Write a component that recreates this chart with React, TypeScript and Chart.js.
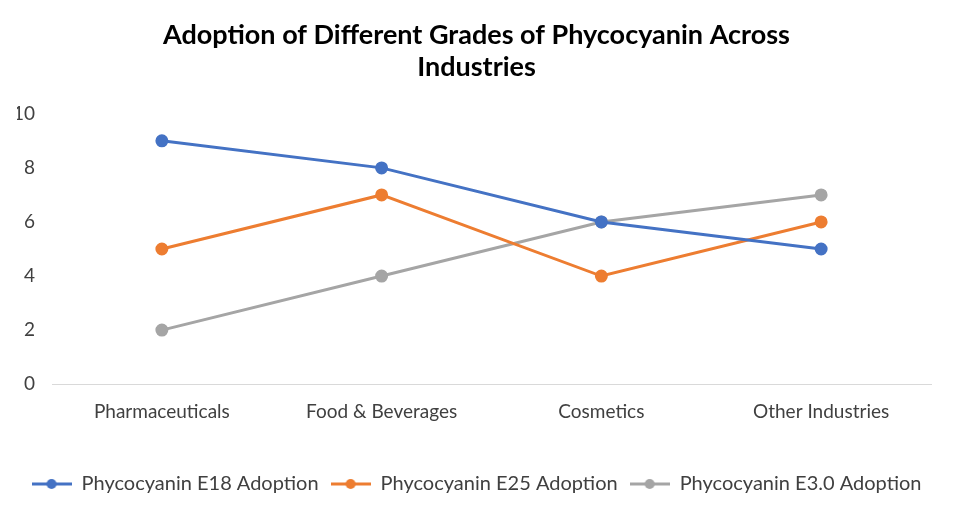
import React, { useEffect, useRef } from "react";
import { Chart, registerables } from "chart.js";
Chart.register(...registerables);

const categories = ["Pharmaceuticals", "Food & Beverages", "Cosmetics", "Other Industries"];
const e18 = [9, 8, 6, 5];
const e25 = [5, 7, 4, 6];
const e30 = [2, 4, 6, 7];
const seriesNames = ["Phycocyanin E18 Adoption", "Phycocyanin E25 Adoption", "Phycocyanin E3.0 Adoption"];
const colors = ["#4472C4", "#ED7D31", "#A5A5A5"];
const FONT = "Lato, 'Open Sans', sans-serif";

function legendIcon(color: string): HTMLCanvasElement {
  const c = document.createElement("canvas");
  c.width = 40;
  c.height = 12;
  const ctx = c.getContext("2d")!;
  ctx.strokeStyle = color;
  ctx.lineWidth = 3;
  ctx.beginPath();
  ctx.moveTo(0, 6);
  ctx.lineTo(40, 6);
  ctx.stroke();
  ctx.fillStyle = color;
  ctx.beginPath();
  ctx.arc(20, 6, 5, 0, Math.PI * 2);
  ctx.fill();
  return c;
}

export default function App() {
  const ref = useRef<HTMLCanvasElement>(null);
  useEffect(() => {
    document.body.style.margin = "0";
    const data = [e18, e25, e30];
    const chart = new Chart(ref.current!, {
      type: "line",
      data: {
        labels: categories,
        datasets: data.map((d, i) => ({
          label: seriesNames[i],
          data: d,
          borderColor: colors[i],
          backgroundColor: colors[i],
          borderWidth: 3,
          pointRadius: 5,
          pointHoverRadius: 5,
          pointBackgroundColor: colors[i],
          pointBorderColor: colors[i],
          tension: 0,
        })),
      },
      options: {
        animation: false,
        responsive: true,
        maintainAspectRatio: false,
        layout: { autoPadding: false, padding: { left: 17, right: 17, top: 19, bottom: 21 } },
        plugins: {
          title: {
            display: true,
            text: ["Adoption of Different Grades of Phycocyanin Across", "Industries"],
            color: "#000000",
            font: { family: FONT, size: 27, weight: "bold" },
            lineHeight: 1.26,
            padding: { top: 0, bottom: 30 },
          },
          legend: {
            position: "bottom",
            labels: {
              color: "#404040",
              font: { family: FONT, size: 20 },
              usePointStyle: true,
              pointStyleWidth: 40,
              padding: 12,
              generateLabels: () =>
                seriesNames.map((n, i) => ({
                  text: n,
                  fillStyle: colors[i],
                  strokeStyle: colors[i],
                  lineWidth: 0,
                  pointStyle: legendIcon(colors[i]),
                  datasetIndex: i,
                  hidden: false,
                  fontColor: "#404040",
                })),
            },
          },
          tooltip: { enabled: false },
        },
        scales: {
          x: {
            offset: true,
            grid: { display: false, offset: true, drawTicks: false },
            border: { display: true, color: "#D9D9D9", width: 1 },
            ticks: { color: "#404040", font: { family: FONT, size: 19 }, padding: 16 },
            beforeFit: (scale: any) => {
              scale._calculatePadding = function () {
                this.paddingLeft = 0;
                this.paddingRight = 22;
              };
            },
            afterFit: (scale: any) => {
              scale.paddingLeft = 0;
              scale.paddingRight = 22;
              scale.height += 23;
            },
          },
          y: {
            min: 0,
            max: 10,
            grid: { display: false, drawTicks: false },
            border: { display: false },
            ticks: { stepSize: 2, color: "#404040", font: { family: FONT, size: 19 }, padding: 17 },
            afterFit: (scale: any) => {
              scale.width = 35;
            },
          },
        },
      },
    });
    return () => chart.destroy();
  }, []);
  return (
    <div style={{ position: "absolute", left: 0, top: 0, width: 953, height: 525 }}>
      <canvas ref={ref} />
    </div>
  );
}
